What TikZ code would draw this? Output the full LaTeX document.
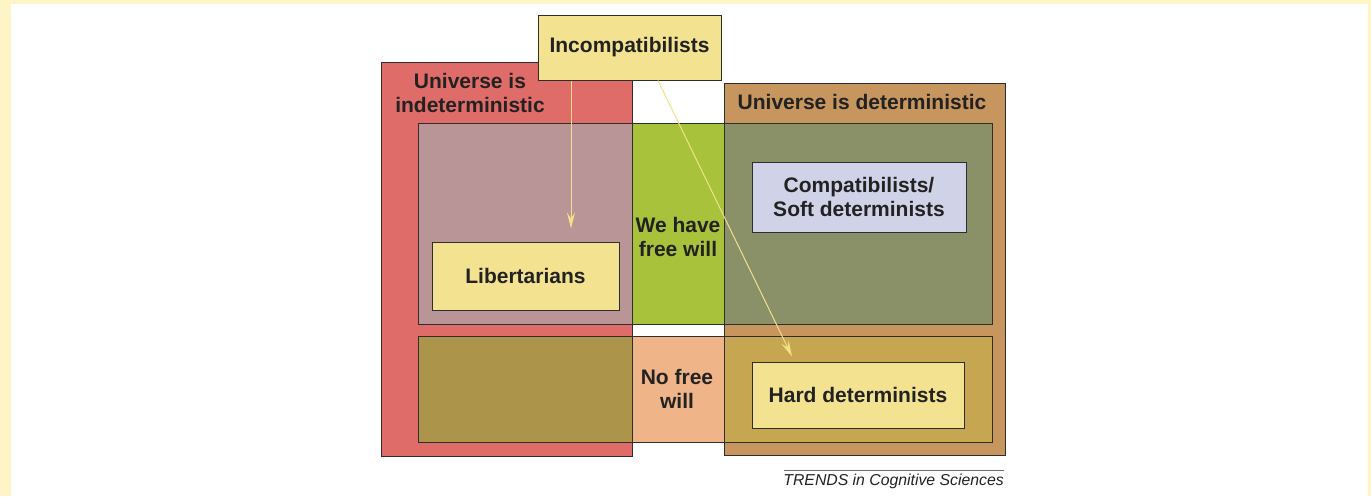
\documentclass[tikz,border=0pt]{standalone}
\usepackage{fontspec}
\setmainfont{Liberation Sans}
\usetikzlibrary{arrows.meta,calc}
\definecolor{framebg}{HTML}{FDF5C6}
\definecolor{edge}{HTML}{2E2E2E}
\definecolor{ink}{HTML}{222222}
\definecolor{indetred}{HTML}{E06C6A}
\definecolor{detbrown}{HTML}{C7955E}
\definecolor{mauve}{HTML}{B99598}
\definecolor{freegreen}{HTML}{A9C23B}
\definecolor{olive}{HTML}{8A9068}
\definecolor{mustard}{HTML}{AD944B}
\definecolor{peach}{HTML}{F0B489}
\definecolor{gold}{HTML}{C6A650}
\definecolor{paleyellow}{HTML}{F3E290}
\definecolor{lavender}{HTML}{D0D3E8}
\definecolor{pointeryellow}{HTML}{F3E08A}

\begin{document}
\begin{tikzpicture}[x=1pt,y=-1pt,
    area/.style={draw=edge,line width=1pt},
    heading/.style={text=ink,font=\bfseries\fontsize{21}{24.5}\selectfont,align=center,inner sep=0pt},
    school/.style={heading,draw=edge,line width=1pt},
    pointer/.style={draw=pointeryellow,line width=1pt,-{Stealth[length=16pt,width=8pt,inset=6pt]}}]
    % frame
    \fill[framebg] (0,0) rectangle (1371,496);
    \fill[white] (11,4) rectangle (1368,496);
    \useasboundingbox (0,0) rectangle (1371,496);
    % the two universes
    \draw[area,fill=indetred] (381,62) rectangle (632,456);
    \draw[area,fill=detbrown] (724,83) rectangle (1005,455);
    % free will row
    \draw[area,fill=mauve] (418,123) rectangle (632,324);
    \draw[area,fill=freegreen] (632,123) rectangle (724,324);
    \draw[area,fill=olive] (724,123) rectangle (992,324);
    % no free will row
    \draw[area,fill=mustard] (418,336) rectangle (632,442);
    \draw[area,fill=peach] (632,336) rectangle (724,442);
    \draw[area,fill=gold] (724,336) rectangle (992,442);
    % headings
    \node[heading] (indet) at (470,93) {Universe is\\indeterministic};
    \node[heading] (det) at (862,102) {Universe is deterministic};
    \node[heading] (freewill) at (678,237) {We have\\free will};
    \node[heading] (nofree) at (677,389) {No free\\will};
    % schools
    \node[school,fill=paleyellow,minimum width=187pt,minimum height=68pt] (libert) at (525.5,276) {Libertarians};
    \node[school,fill=lavender,minimum width=214pt,minimum height=70pt] (compat) at (859,197) {Compatibilists/\\Soft determinists};
    \node[school,fill=paleyellow,minimum width=212pt,minimum height=66pt] (hard) at (858,395) {Hard determinists};
    \node[school,fill=paleyellow,minimum width=183pt,minimum height=65pt] (incompat) at (629.5,47.5) {Incompatibilists};
    % arrows
    \coordinate (libtip) at ($(libert.north)+(45.5,-13)$);
    \coordinate (hardtip) at ($(hard.north)+(-66,-5)$);
    \draw[pointer] (incompat.south -| libtip) -- (libtip);
    \draw[pointer] ($(incompat.south)+(28.5,0)$) -- (hardtip);
    % source
    \draw[edge!70,line width=0.6pt] (784,470) coordinate (ruleL) -- (1004,470) coordinate (ruleR);
    \node[anchor=north east,inner sep=0pt,text=ink,font=\itshape\fontsize{15.8}{19}\selectfont] (source) at ($(ruleR)+(0,4)$) {TRENDS in Cognitive Sciences};
\end{tikzpicture}
\end{document}
